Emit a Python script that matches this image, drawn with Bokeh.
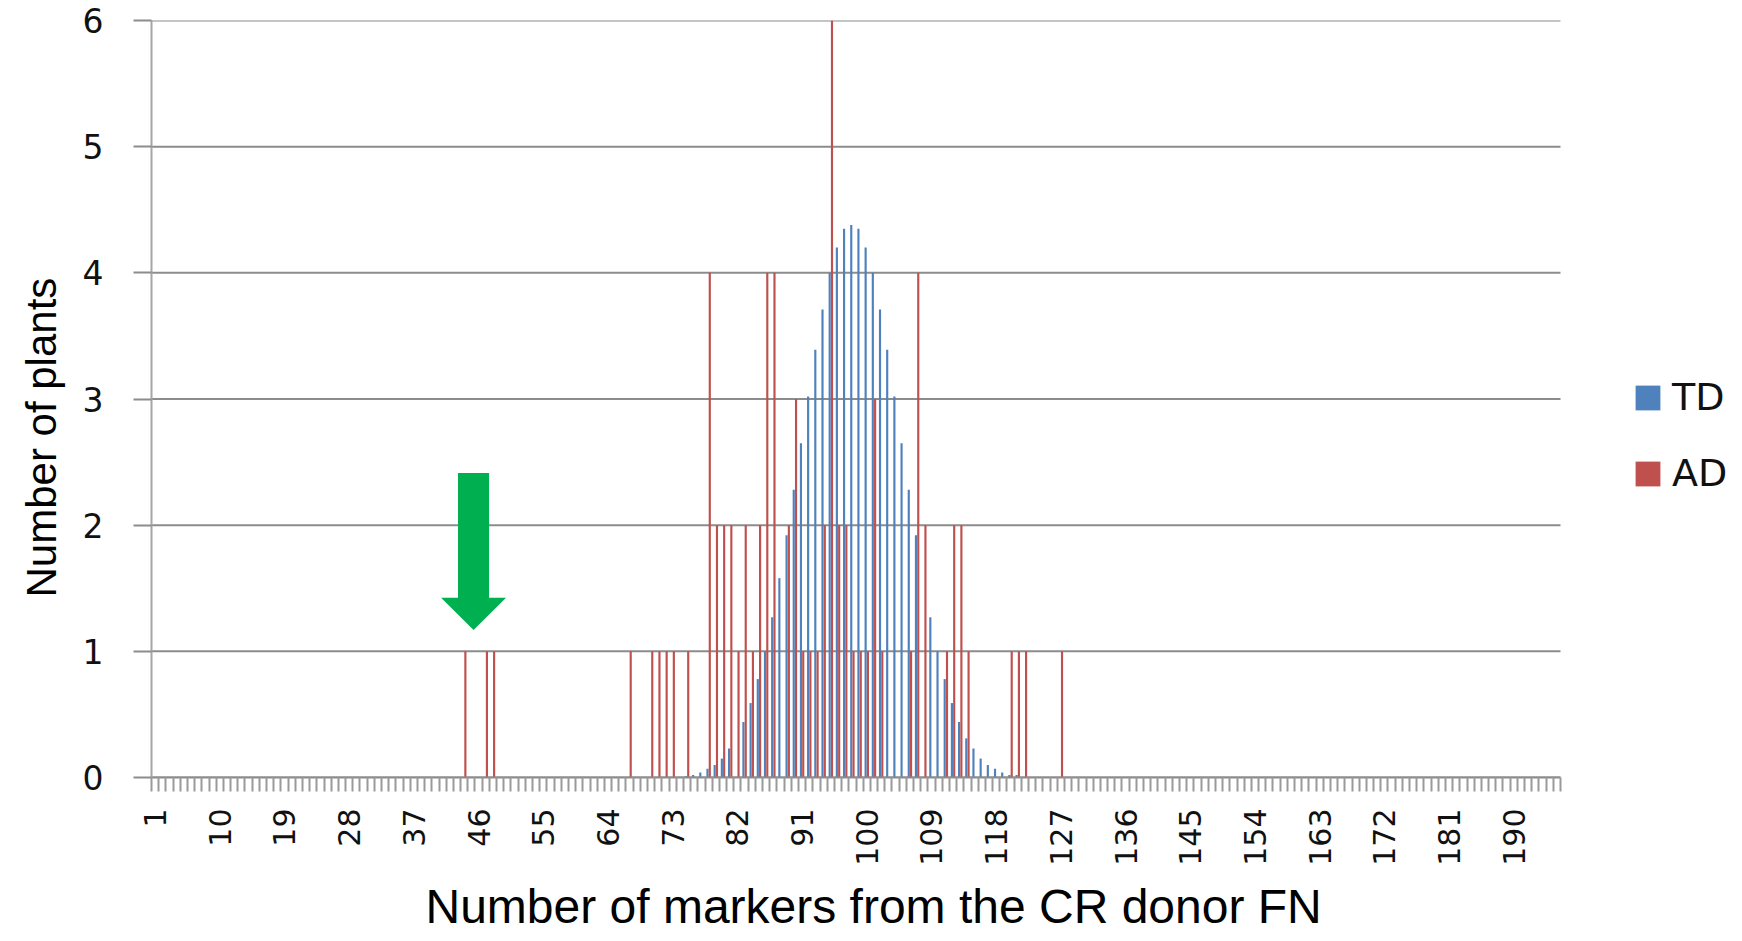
import math
from bokeh.plotting import figure
from bokeh.models import (Range1d, FixedTicker, Legend, LegendItem, Title,
                          PolyAnnotation, ColumnDataSource)
from bokeh.transform import dodge
from bokeh.embed import file_html
from bokeh.resources import INLINE

# ---------------- data ----------------
n_categories = 196
tick_label_markers = list(range(1, n_categories + 1, 9))   # 1, 10, ..., 190
y_ticks = [0, 1, 2, 3, 4, 5, 6]

td_markers = [75, 76, 77, 78, 79, 80, 81,
              83, 84, 85, 86, 87, 88, 89, 90, 91, 92, 93, 94, 95, 96, 97, 98,
              99, 100, 101, 102, 103, 104, 105, 106, 107,
              109, 110, 111, 112, 113, 114, 115, 116, 117, 118, 119, 120, 121]
td_plants = [0.01, 0.02, 0.04, 0.07, 0.10, 0.15, 0.23,
             0.44, 0.59, 0.78, 1.00, 1.27, 1.58, 1.92, 2.28, 2.65, 3.02, 3.39, 3.71, 4.00, 4.20, 4.35, 4.38,
             4.35, 4.20, 4.00, 3.71, 3.39, 3.02, 2.65, 2.28, 1.92,
             1.27, 1.00, 0.78, 0.59, 0.44, 0.31, 0.23, 0.15, 0.10, 0.07, 0.04, 0.02, 0.02]

ad_markers = [44, 47, 48, 67, 70, 71, 72, 73, 75, 78, 79, 80, 81, 82, 83, 84, 85, 86, 87,
              89, 90, 91, 92, 93, 94, 95, 96, 97, 98, 99, 100, 101, 102,
              106, 107, 108, 111, 112, 113, 114, 120, 121, 122, 127]
ad_plants = [1, 1, 1, 1, 1, 1, 1, 1, 1, 4, 2, 2, 2, 1, 2, 1, 2, 4, 4,
             2, 3, 1, 1, 1, 2, 6, 2, 2, 1, 1, 1, 3, 1,
             1, 4, 2, 1, 2, 2, 1, 1, 1, 1, 1]

x_title = "Number of markers from  the CR donor FN"
y_title = "Number of plants"

# ---------------- layout / styling ----------------
BLUE = "#4F81BD"
RED = "#C0504D"
GREEN = "#00B050"
GRID = "#8c8c8c"

W, H = 1742, 941
LEFT, TOP, BOTTOM = 151, 20, 164
AXIS_PX = 1409                      # pixel width of the category axis
frame_px = W - LEFT                 # frame runs to the right edge (legend inside)
x_end = 0.5 + n_categories * frame_px / AXIS_PX

p = figure(width=W, height=H, output_backend="svg", toolbar_location=None,
           x_range=Range1d(0.5, x_end), y_range=Range1d(0, 6),
           min_border_left=LEFT, min_border_right=0, min_border_top=TOP,
           min_border_bottom=BOTTOM)
p.outline_line_color = None
p.background_fill_color = "white"
p.border_fill_color = "white"

# horizontal gridlines limited to the category axis extent
p.segment(x0=[0.5] * len(y_ticks), x1=[n_categories + 0.5] * len(y_ticks),
          y0=y_ticks, y1=y_ticks, line_color=GRID, line_width=2)

td_src = ColumnDataSource(dict(x=td_markers, y=td_plants))
ad_src = ColumnDataSource(dict(x=ad_markers, y=ad_plants))

r_td = p.vbar(x=dodge('x', -0.16, range=p.x_range), top='y', width=0.30,
              source=td_src, fill_color=BLUE, line_color=None)
r_ad = p.vbar(x=dodge('x', 0.16, range=p.x_range), top='y', width=0.30,
              source=ad_src, fill_color=RED, line_color=None)

# x axis: labels every 9 categories, tick marks between categories
boundaries = [c - 0.5 for c in range(1, n_categories + 2)]
p.xaxis.bounds = (0.5, n_categories + 0.5)
p.xaxis.ticker = FixedTicker(ticks=tick_label_markers, minor_ticks=boundaries)
p.xaxis.major_label_orientation = math.pi / 2
p.xaxis.major_tick_line_color = None
p.xaxis.major_tick_out = 0
p.xaxis.major_tick_in = 0
p.xaxis.minor_tick_out = 14
p.xaxis.minor_tick_in = 0
p.xaxis.minor_tick_line_color = "#9a9a9a"
p.xaxis.minor_tick_line_width = 2
p.xaxis.axis_line_color = GRID
p.xaxis.axis_line_width = 2
p.xaxis.major_label_standoff = 17
p.xaxis.major_label_text_font = "DejaVu Sans"
p.xaxis.major_label_text_font_size = "30px"
p.xaxis.major_label_text_color = "#111111"

p.yaxis.ticker = FixedTicker(ticks=y_ticks)
p.yaxis.minor_tick_line_color = None
p.yaxis.major_tick_out = 18
p.yaxis.major_tick_in = 0
p.yaxis.major_tick_line_color = GRID
p.yaxis.major_tick_line_width = 2
p.yaxis.axis_line_color = "#a6a6a6"
p.yaxis.axis_line_width = 2
p.yaxis.major_label_standoff = 30
p.yaxis.major_label_text_font = "DejaVu Sans"
p.yaxis.major_label_text_font_size = "33px"
p.yaxis.major_label_text_color = "#111111"

p.xgrid.visible = False
p.ygrid.visible = False

# axis titles (slide text boxes, slightly off-centre)
p.add_layout(Title(text=x_title, align="left", offset=274, standoff=18,
                   text_font="Liberation Sans", text_font_size="48px",
                   text_font_style="normal", text_color="black"), "below")
p.add_layout(Title(text=y_title, align="left", offset=180, standoff=30,
                   text_font="Liberation Sans", text_font_size="42px",
                   text_font_style="normal", text_color="black"), "left")

# green arrow pointing at the low-marker plants
tip_x, tip_y = 45.3, 1.17
sh, hh = 2.16, 4.52
hb, st = 1.424, 2.414
p.add_layout(PolyAnnotation(
    xs=[tip_x - sh, tip_x + sh, tip_x + sh, tip_x + hh, tip_x, tip_x - hh, tip_x - sh],
    ys=[st, st, hb, hb, tip_y, hb, hb],
    xs_units="data", ys_units="data",
    fill_color=GREEN, fill_alpha=1.0, line_color=None))

legend = Legend(items=[LegendItem(label="TD", renderers=[r_td]),
                       LegendItem(label="AD", renderers=[r_ad])],
                location=(1481, 282))
legend.label_text_font = "DejaVu Sans"
legend.label_text_font_size = "38px"
legend.label_text_color = "#111111"
legend.glyph_width = 31
legend.glyph_height = 31
legend.label_standoff = 9
legend.spacing = 32
legend.padding = 0
legend.margin = 0
legend.border_line_alpha = 0
legend.background_fill_alpha = 0
p.add_layout(legend)

open("out.html", "w").write(file_html(p, INLINE))
